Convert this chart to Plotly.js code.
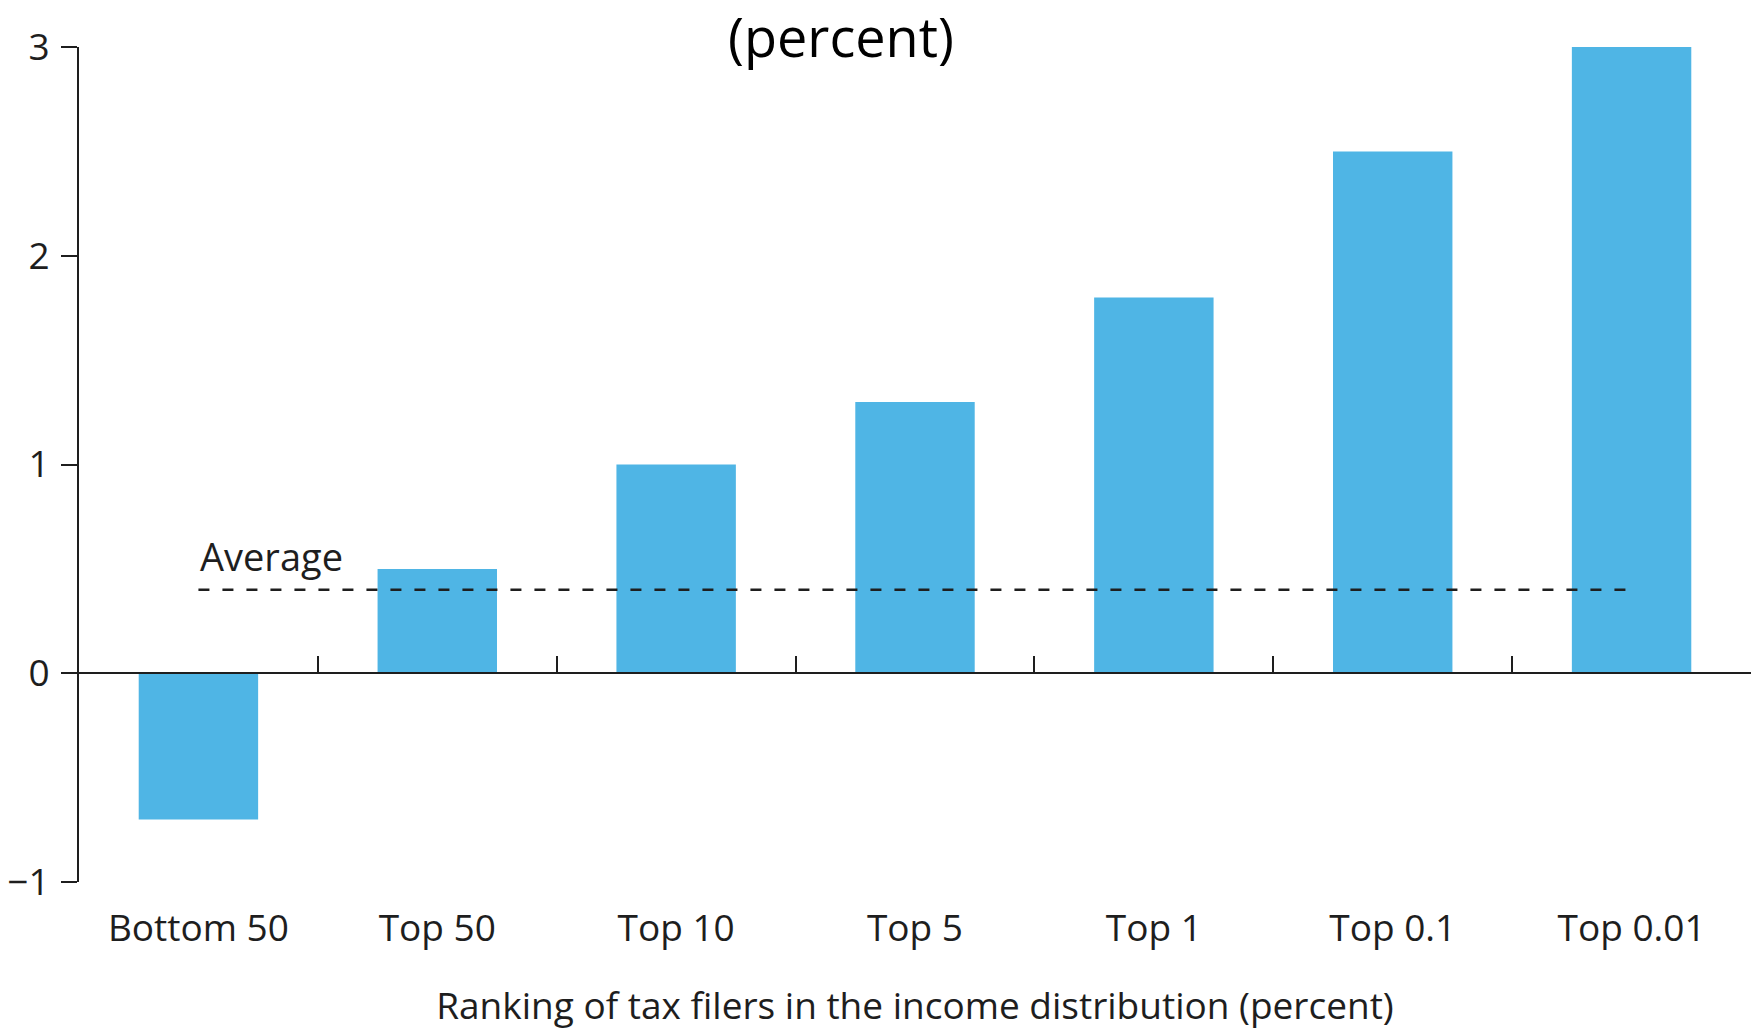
<!DOCTYPE html>
<html>
<head>
<meta charset="utf-8">
<script src="https://cdn.plot.ly/plotly-3.0.1.min.js"></script>
<style>html,body{margin:0;padding:0;background:#fff;}#chart{width:1762px;height:1030px;}</style>
</head>
<body>
<div id="chart"></div>
<script>
const categories = ["Bottom 50", "Top 50", "Top 10", "Top 5", "Top 1", "Top 0.1", "Top 0.01"];
const values = [-0.7, 0.5, 1.0, 1.3, 1.8, 2.5, 3.0];
const averageValue = 0.4;
const averageLabel = "Average";
const yTickVals = [-1, 0, 1, 2, 3];
const titleText = "(percent)";
const xTitleText = "Ranking of tax filers in the income distribution (percent)";

const FONT = "Open Sans, Noto Sans, sans-serif";
const INK = "#1e1e1e";

const bars = {
  type: "bar",
  x: categories,
  y: values,
  width: 0.5,
  marker: {color: "#4fb5e5", line: {width: 0}},
  xaxis: "x",
  yaxis: "y",
  hoverinfo: "skip",
  showlegend: false
};

const avgLine = {
  type: "scatter",
  mode: "lines",
  x: categories,
  y: categories.map(() => averageValue),
  line: {color: INK, width: 2.6, dash: "11px,13px"},
  xaxis: "x2",
  yaxis: "y",
  hoverinfo: "skip",
  showlegend: false
};

const layout = {
  width: 1762,
  height: 1030,
  margin: {l: 79, r: 11, t: 47, b: 148},
  paper_bgcolor: "#fff",
  plot_bgcolor: "#fff",
  font: {family: FONT, color: INK, size: 37},
  showlegend: false,
  title: {
    text: titleText,
    x: 841 / 1762,
    xanchor: "center",
    xref: "container",
    y: 1 - 38 / 1030,
    yanchor: "middle",
    font: {family: FONT, size: 54, color: "#000"}
  },
  xaxis: {
    type: "category",
    categoryarray: categories,
    range: [-0.5, 6.5],
    showline: false,
    showgrid: false,
    zeroline: false,
    ticks: "",
    ticklabelstandoff: 21,
    tickfont: {family: FONT, size: 37, color: INK},
    title: {text: xTitleText, font: {family: FONT, size: 37, color: INK}, standoff: 46},
    automargin: false,
    fixedrange: true
  },
  xaxis2: {
    type: "category",
    categoryarray: categories,
    range: [-0.5, 6.5],
    overlaying: "x",
    anchor: "free",
    position: 0.25,
    side: "bottom",
    showline: true,
    linecolor: INK,
    linewidth: 2,
    ticks: "inside",
    tickson: "boundaries",
    ticklen: 16,
    tickwidth: 2,
    tickcolor: INK,
    showticklabels: false,
    showgrid: false,
    zeroline: false,
    automargin: false,
    fixedrange: true
  },
  yaxis: {
    range: [-1, 3],
    tickvals: yTickVals,
    showline: true,
    linecolor: INK,
    linewidth: 2,
    ticks: "outside",
    ticklen: 16,
    tickwidth: 2,
    tickcolor: INK,
    ticklabelstandoff: 4,
    tickfont: {family: FONT, size: 37, color: INK},
    showgrid: false,
    zeroline: false,
    automargin: false,
    fixedrange: true
  },
  annotations: [{
    text: averageLabel,
    x: categories[0],
    y: averageValue,
    xref: "x",
    yref: "y",
    xanchor: "left",
    yanchor: "bottom",
    showarrow: false,
    yshift: 6,
    font: {family: FONT, size: 38, color: INK}
  }]
};

Plotly.newPlot("chart", [bars, avgLine], layout, {displayModeBar: false, staticPlot: true});
</script>
</body>
</html>
